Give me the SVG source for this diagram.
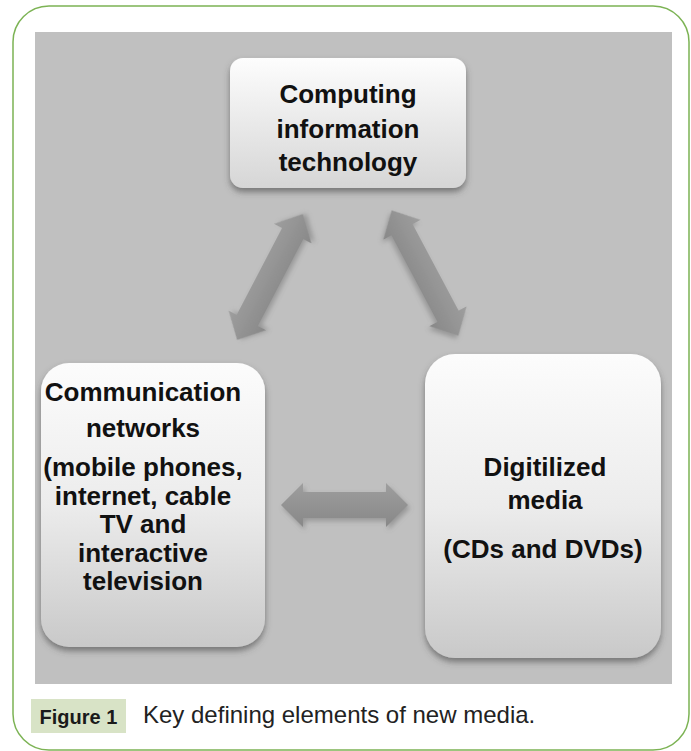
<svg xmlns="http://www.w3.org/2000/svg" width="691" height="751" viewBox="0 0 691 751">
<style>
.lbl{font-family:"Liberation Sans",Arial,sans-serif;font-weight:bold;font-size:26px;fill:#111;text-anchor:middle}
.box{filter:url(#bshadow)}
.arr{fill:url(#agrad);filter:url(#ashadow)}
</style>
<defs>
<linearGradient id="g1" x1="0" y1="0" x2="0" y2="1">
<stop offset="0" stop-color="#fdfdfd"/><stop offset="1" stop-color="#d6d6d6"/>
</linearGradient>
<linearGradient id="g2" x1="0" y1="0" x2="0" y2="1">
<stop offset="0" stop-color="#fcfcfc"/><stop offset="0.5" stop-color="#ececec"/><stop offset="1" stop-color="#c9c9c9"/>
</linearGradient>
<linearGradient id="agrad" x1="0" y1="0" x2="0" y2="1">
<stop offset="0" stop-color="#9e9e9e"/><stop offset="1" stop-color="#888888"/>
</linearGradient>
<filter id="bshadow" x="-10%" y="-10%" width="120%" height="125%">
<feDropShadow dx="0" dy="4" stdDeviation="3" flood-color="#444" flood-opacity="0.6"/>
</filter>
<filter id="ashadow" x="-20%" y="-20%" width="140%" height="140%">
<feDropShadow dx="2" dy="3" stdDeviation="2.5" flood-color="#666" flood-opacity="0.45"/>
</filter>
</defs>
<rect x="13" y="6" width="676" height="744" rx="36" fill="#fff" stroke="#7cb354" stroke-width="1.5"/>
<rect x="35" y="32" width="637" height="652" fill="#c0c0c0"/>
<g id="connectors">
<path class="arr" transform="translate(270,277) rotate(-62.4)" d="M -71 0 L -49 -21 L -49 -12 L 49 -12 L 49 -21 L 71 0 L 49 21 L 49 12 L -49 12 L -49 21 Z"/>
<path class="arr" transform="translate(425,273) rotate(62)" d="M -71 0 L -49 -21 L -49 -12 L 49 -12 L 49 -21 L 71 0 L 49 21 L 49 12 L -49 12 L -49 21 Z"/>
<path class="arr" transform="translate(344.5,505)" d="M -63.5 0 L -41.5 -22 L -41.5 -13 L 41.5 -13 L 41.5 -22 L 63.5 0 L 41.5 22 L 41.5 13 L -41.5 13 L -41.5 22 Z"/>
</g>
<g id="node-computing">
<rect class="box" x="230" y="58" width="236" height="130" rx="13" fill="url(#g1)"/>
<text class="lbl" x="348" y="103">Computing</text>
<text class="lbl" x="348" y="138">information</text>
<text class="lbl" x="348" y="171">technology</text>
</g>
<g id="node-communication">
<rect class="box" x="41" y="363" width="224" height="284" rx="28" fill="url(#g2)"/>
<text class="lbl" x="143" y="401">Communication</text>
<text class="lbl" x="143" y="437">networks</text>
<text class="lbl" x="143" y="476">(mobile phones,</text>
<text class="lbl" x="143" y="505">internet, cable</text>
<text class="lbl" x="143" y="533">TV and</text>
<text class="lbl" x="143" y="562">interactive</text>
<text class="lbl" x="143" y="590">television</text>
</g>
<g id="node-digitilized">
<rect class="box" x="425" y="354" width="236" height="304" rx="30" fill="url(#g2)"/>
<text class="lbl" x="545" y="476">Digitilized</text>
<text class="lbl" x="545" y="509">media</text>
<text class="lbl" x="543" y="558">(CDs and DVDs)</text>
</g>
<g id="caption">
<rect x="31" y="699" width="95" height="34" fill="#d8e3c6"/>
<text x="78.5" y="724" text-anchor="middle" style="font-family:'Liberation Sans',Arial,sans-serif;font-weight:bold;font-size:20px;fill:#1a1a1a">Figure 1</text>
<text x="143" y="723" style="font-family:'Liberation Sans',Arial,sans-serif;font-size:24px;fill:#222">Key defining elements of new media.</text>
</g>
</svg>
